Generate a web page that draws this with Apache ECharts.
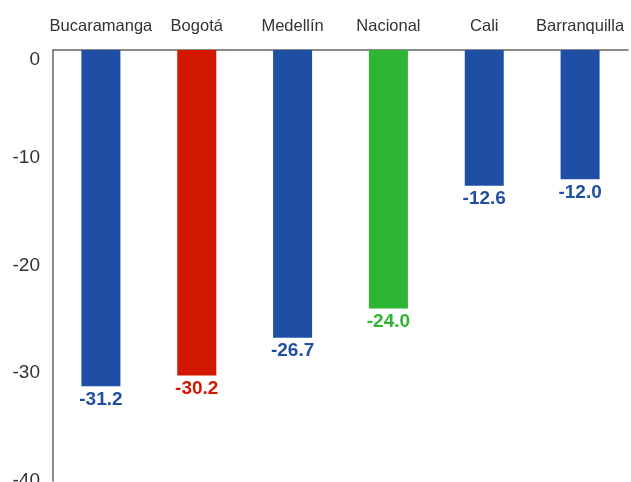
<!DOCTYPE html>
<html><head><meta charset="utf-8">
<script src="https://cdn.jsdelivr.net/npm/echarts@6/dist/echarts.min.js"></script>
<style>html,body{margin:0;padding:0;background:#fff}#c{width:631px;height:482px}</style>
</head><body><div id="c"></div>
<script>
const categories = ["Bucaramanga", "Bogotá", "Medellín", "Nacional", "Cali", "Barranquilla"];
const values = [-31.2, -30.2, -26.7, -24.0, -12.6, -12.0];
const barColors = ["#1f4fa5", "#d41800", "#1f4fa5", "#2db534", "#1f4fa5", "#1f4fa5"];
const yTicks = [-40, -30, -20, -10, 0];

const chart = echarts.init(document.getElementById('c'));
chart.setOption({
  animation: false,
  grid: { left: 53, right: 3, top: 50, bottom: 1, containLabel: false, outerBoundsMode: 'none' },
  xAxis: {
    type: 'category', data: categories, position: 'top',
    axisLine: { show: true, lineStyle: { color: '#666', width: 1.5 } },
    axisTick: { show: false },
    axisLabel: { color: '#333', fontSize: 16.5, fontFamily: 'Liberation Sans', margin: 15, interval: 0 }
  },
  yAxis: {
    type: 'value', min: yTicks[0], max: yTicks[yTicks.length - 1], interval: 10,
    axisLine: { show: true, lineStyle: { color: '#666', width: 1.5 } },
    axisTick: { show: false },
    splitLine: { show: false },
    axisLabel: { color: '#333', fontSize: 19, fontFamily: 'Liberation Sans', margin: 13,
      verticalAlignMaxLabel: 'top', padding: [0, 0, 4, 0] }
  },
  series: [{
    type: 'bar', barWidth: 39,
    data: values.map((v, i) => ({ value: v, itemStyle: { color: barColors[i] },
      label: { color: barColors[i] } })),
    label: { show: true, position: 'bottom', distance: 4, fontSize: 19, fontWeight: 'bold',
      fontFamily: 'Liberation Sans', formatter: p => p.value.toFixed(1) }
  }]
});
</script></body></html>
